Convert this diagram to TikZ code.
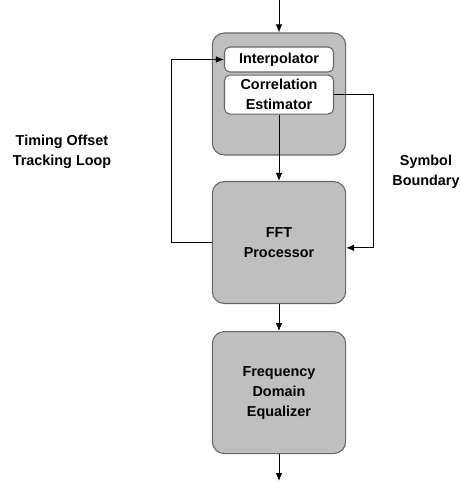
\documentclass[tikz,border=0pt]{standalone}
\usepackage{fontspec}
\setmainfont{Liberation Sans}
\usetikzlibrary{arrows.meta,positioning}
\tikzstyle{every node}=[font=\fontsize{10.8}{15}\selectfont\bfseries,align=center]
\tikzstyle{block}=[draw=black!60,fill=black!25,rounded corners=9pt,minimum width=100pt,minimum height=91.5pt,inner sep=0pt,line width=0.8pt]
\tikzstyle{sub}=[draw=black!60,fill=white,rounded corners=4pt,minimum width=81.75pt,inner sep=0pt,line width=0.8pt]

\begin{document}
\begin{tikzpicture}[x=0.75pt,y=-0.75pt,>={Latex[length=6pt,width=5pt]},line width=0.75pt]
  \useasboundingbox (0,0) rectangle (460,483);
  \node[block] (sync) at (279,94) {};
  \node[sub,minimum height=18.75pt] (interp) at (279,59.5) {Interpolator};
  \node[sub,minimum height=29.25pt] (corr) [below=1.5pt of interp] {Correlation\\Estimator};
  \node[block] (fft) at (279,242.5) {FFT\\Processor};
  \node[block] (fde) [below=20.25pt of fft] {Frequency\\Domain\\Equalizer};
  \coordinate (in) at (279,0);
  \coordinate (out) at (279,481);
  \node (loop) at (62,152) {Timing Offset\\Tracking Loop};
  \node (bound) at (426,172) {Symbol\\Boundary};

  \draw[->] (in) -- (sync);
  \draw[->] (corr) -- (fft);
  \draw[->] (fft) -- (fde);
  \draw[->] (fde) -- (out);
  \draw[->] (fft.west) -- ++(-40,0) |- (interp.west);
  \draw[->] (corr.east) -- ++(39,0) |- ([yshift=-4pt]fft.east);
\end{tikzpicture}
\end{document}
